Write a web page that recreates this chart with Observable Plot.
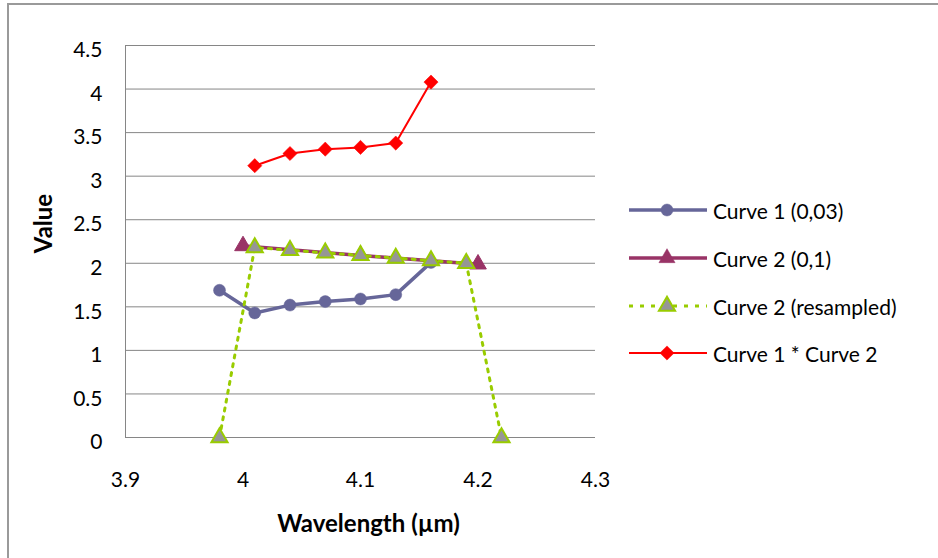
<!DOCTYPE html>
<html>
<head>
<meta charset="utf-8">
<script src="https://cdn.jsdelivr.net/npm/d3@7"></script>
<script src="https://cdn.jsdelivr.net/npm/@observablehq/plot@0.6"></script>
<style>
  html, body { margin: 0; padding: 0; background: #fff; }
  body { width: 938px; height: 558px; position: relative; overflow: hidden; font-family: Lato, "Open Sans", sans-serif; }
  #frame { position: absolute; left: 7px; top: 3px; width: 1000px; height: 600px; border-top: 2px solid #9a9a9a; border-left: 2px solid #9a9a9a; }
  #chart { position: absolute; left: 0; top: 0; }
  #legend { position: absolute; left: 628px; top: 0; font-size: 21px; color: #000; }
  .row { position: absolute; left: 0; height: 30px; white-space: nowrap; display: flex; align-items: center; }
  .row svg { width: 80px; height: 30px; margin-right: 5px; }
</style>
</head>
<body>
<div id="frame"></div>
<div id="chart"></div>
<div id="legend"></div>
<script>
// ---- data ----
const curve1X = [3.98, 4.01, 4.04, 4.07, 4.10, 4.13, 4.16];
const curve1Y = [1.69, 1.43, 1.52, 1.56, 1.59, 1.64, 2.01];
const curve2X = [4.00, 4.10, 4.20];
const curve2Y = [2.20, 2.09, 1.99];
const resampledX = [3.98, 4.01, 4.04, 4.07, 4.10, 4.13, 4.16, 4.19, 4.22];
const resampledY = [0, 2.18, 2.15, 2.12, 2.09, 2.06, 2.03, 2.00, 0];
const productX = [4.01, 4.04, 4.07, 4.10, 4.13, 4.16];
const productY = [3.12, 3.26, 3.31, 3.33, 3.38, 4.08];
const seriesNames = ["Curve 1 (0,03)", "Curve 2 (0,1)", "Curve 2 (resampled)", "Curve 1 * Curve 2"];
const xTicks = [3.9, 4.0, 4.1, 4.2, 4.3];
const yTicks = [0, 0.5, 1, 1.5, 2, 2.5, 3, 3.5, 4, 4.5];
const xTitle = "Wavelength (µm)";
const yTitle = "Value";

const zip = (xs, ys) => xs.map((x, i) => ({x, y: ys[i]}));
const c1 = zip(curve1X, curve1Y);
const c2 = zip(curve2X, curve2Y);
const rs = zip(resampledX, resampledY);
const pr = zip(productX, productY);

const col1 = "#666699", col2 = "#993366", col3 = "#99CC00", col4 = "#FF0000", colGray = "#969696";
const font = "Lato, 'Open Sans', sans-serif";

const chart = Plot.plot({
  width: 938,
  height: 558,
  marginLeft: 125,
  marginRight: 343,
  marginTop: 45,
  marginBottom: 121,
  style: {fontFamily: font, fontSize: "21px", color: "#000", background: "transparent", overflow: "visible"},
  x: {domain: [3.9, 4.3]},
  y: {domain: [0, 4.5]},
  marks: [
    Plot.gridY(yTicks, {stroke: "#868686", strokeOpacity: 1, strokeWidth: 1}),
    Plot.ruleX([3.9], {stroke: "#868686", strokeWidth: 1}),
    Plot.axisY(yTicks, {tickSize: 0, tickPadding: 23, tickFormat: d => String(d), dy: 5, label: null, fontSize: 21}),
    Plot.axisX(xTicks, {tickSize: 0, tickPadding: 35, tickFormat: d => String(d), label: null, fontSize: 21}),
    // Curve 1
    Plot.line(c1, {x: "x", y: "y", stroke: col1, strokeWidth: 3.5}),
    Plot.dot(c1, {x: "x", y: "y", r: 6, fill: col1, stroke: col1, strokeWidth: 0.5}),
    // Curve 2
    Plot.line(c2, {x: "x", y: "y", stroke: col2, strokeWidth: 3.5}),
    Plot.dot(c2, {x: "x", y: "y", symbol: "triangle", r: 6.2, fill: col2, stroke: col2, strokeWidth: 1}),
    // Curve 2 resampled
    Plot.line(rs, {x: "x", y: "y", stroke: col3, strokeWidth: 3, strokeDasharray: "3,6"}),
    Plot.dot(rs, {x: "x", y: "y", symbol: "triangle", r: 6, fill: colGray, stroke: col3, strokeWidth: 2}),
    // Product
    Plot.line(pr, {x: "x", y: "y", stroke: col4, strokeWidth: 2}),
    Plot.dot(pr, {x: "x", y: "y", symbol: "diamond2", r: 6.4, fill: col4, stroke: col4, strokeWidth: 0.5}),
    // Axis titles
    Plot.text([xTitle], {frameAnchor: "bottom", lineAnchor: "middle", textAnchor: "middle", dx: 8, dy: 87, text: d => d, fontWeight: "bold", fontSize: 24, fill: "#000"}),
    Plot.text([yTitle], {frameAnchor: "left", lineAnchor: "middle", textAnchor: "middle", dx: -81, dy: -18, rotate: -90, text: d => d, fontWeight: "bold", fontSize: 24, fill: "#000"})
  ]
});
document.getElementById("chart").append(chart);

// ---- legend ----
const legendRows = [
  {name: seriesNames[0], y: 210, stroke: col1, width: 3.5, dash: null, sym: "circle", fill: col1, sstroke: col1},
  {name: seriesNames[1], y: 258, stroke: col2, width: 3.5, dash: null, sym: "triangle", fill: col2, sstroke: col2},
  {name: seriesNames[2], y: 306, stroke: col3, width: 3, dash: "4,7", sym: "triangle", fill: colGray, sstroke: col3},
  {name: seriesNames[3], y: 353, stroke: col4, width: 2, dash: null, sym: "diamond", fill: col4, sstroke: col4}
];
const legend = document.getElementById("legend");
for (const r of legendRows) {
  const div = document.createElement("div");
  div.className = "row";
  div.style.top = (r.y - 15) + "px";
  const svg = d3.create("svg").attr("width", 80).attr("height", 30);
  svg.append("line").attr("x1", 1).attr("x2", 79).attr("y1", 15).attr("y2", 15)
    .attr("stroke", r.stroke).attr("stroke-width", r.width).attr("stroke-dasharray", r.dash);
  const symType = r.sym === "circle" ? d3.symbolCircle : r.sym === "triangle" ? d3.symbolTriangle : d3.symbolDiamond2;
  const rr = r.sym === "diamond" ? 6.4 : 6;
  const size = Math.PI * rr * rr;
  svg.append("path").attr("d", d3.symbol(symType, size)()).attr("transform", "translate(39,15)")
    .attr("fill", r.fill).attr("stroke", r.sstroke).attr("stroke-width", r.sym === "triangle" && r.fill === colGray ? 2 : 0.5);
  div.append(svg.node());
  const span = document.createElement("span");
  span.textContent = r.name;
  div.append(span);
  legend.append(div);
}
</script>
</body>
</html>
